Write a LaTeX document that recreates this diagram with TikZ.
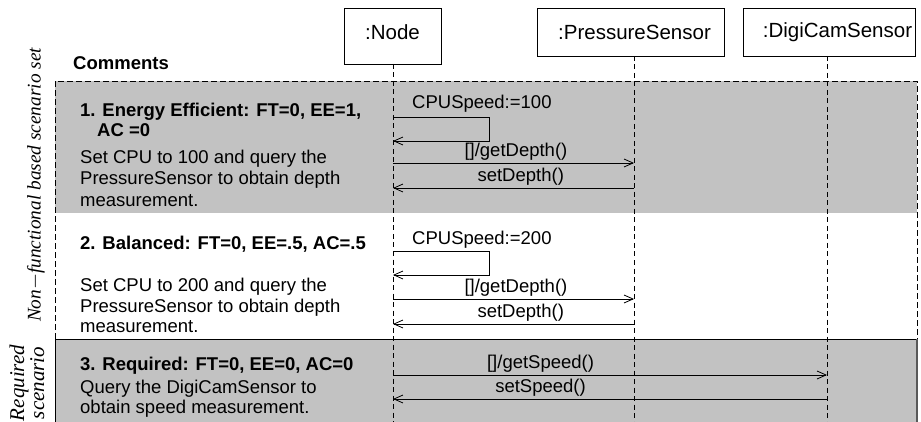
\documentclass[tikz,border=0pt]{standalone}
\usepackage{fontspec}
\setmainfont{Liberation Sans}
\newfontfamily\sidefont{Liberation Serif}
\usetikzlibrary{arrows.meta}
\definecolor{zone}{gray}{0.76}

\begin{document}
\begin{tikzpicture}[x=1pt,y=-1pt]
    \tikzset{head/.style = {shape=rectangle,draw,line width=0.8pt,inner sep=0pt,minimum height=48,font=\fontsize{20.5}{24}\selectfont}}
    \tikzset{life/.style = {line width=0.8pt,dash pattern=on 5pt off 3.5pt}}
    \tikzset{frame/.style = {line width=0.8pt,dash pattern=on 6pt off 3pt}}
    \tikzset{msg/.style = {line width=0.8pt,-{Straight Barb[length=9pt,width=8pt,line width=0.8pt]}}}
    \tikzset{reply/.style = {line width=0.8pt}}
    \tikzset{txt/.style = {anchor=base west,inner sep=0pt,font=\fontsize{18.5}{20.5}\selectfont}}
    \tikzset{title/.style = {txt,font=\fontsize{18.5}{20.5}\selectfont\bfseries}}
    \tikzset{call/.style = {above,inner sep=2pt,font=\fontsize{18.5}{20.5}\selectfont}}
    \tikzset{side/.style = {rotate=90,inner sep=0pt,align=center,font=\sidefont\itshape}}
    \useasboundingbox (0,0) rectangle (921,422);
    % scenario zones
    \fill[zone] (55,81) rectangle (917,213);
    \fill[zone] (55,339) rectangle (917,422);
    \draw[frame] (55,339) -- (55,81) -- (917,81) -- (917,339);
    \draw[line width=0.8pt] (55,422) -- (55,339) -- (917,339);
    \draw[line width=1.4pt,black!65] (917,339) -- (917,422);
    % lifeline heads
    \node[head,minimum width=97,minimum height=56,text depth=8pt] (node) at (392.5,36) {:Node};
    \node[head,minimum width=187] (pres) at (630.5,32) {\hspace*{8pt}:PressureSensor};
    \node[head,minimum width=172] (digi) at (829,32) {\hspace*{17pt}:DigiCamSensor};
    \coordinate (nodeL) at (393,64);
    \coordinate (presL) at (634,56);
    \coordinate (digiL) at (827,56);
    \coordinate (nodeE) at (393,422);
    \coordinate (presE) at (634,422);
    \coordinate (digiE) at (827,422);
    \draw[life] (nodeL) -- (nodeE);
    \draw[life] (presL) -- (presE);
    \draw[life] (digiL) -- (digiE);
    % side labels
    \node[side,font=\sidefont\itshape\fontsize{19.3}{22}\selectfont] (nfset) at (36,185) {Non$-$functional based scenario set};
    \node[side,font=\sidefont\itshape\fontsize{21}{20}\selectfont] (reqset) at (27,383) {Required\\scenario};
    % comments
    \node[title] (cmt) at (73,70) {Comments};
    \node[title] (r1t1) at (80,117) {1. Energy Efficient: FT=0, EE=1,};
    \node[title] (r1t2) at (97,137) {AC =0};
    \node[txt] (r1d1) at (80,164) {Set CPU to 100 and query the};
    \node[txt] (r1d2) at (80,185) {PressureSensor to obtain depth};
    \node[txt] (r1d3) at (80,207) {measurement.};
    \node[title] (r2t1) at (80,250) {2. Balanced: FT=0, EE=.5, AC=.5};
    \node[txt] (r2d1) at (80,291) {Set CPU to 200 and query the};
    \node[txt] (r2d2) at (80,312) {PressureSensor to obtain depth};
    \node[txt] (r2d3) at (80,332) {measurement.};
    \node[title] (r3t1) at (80,370) {3. Required: FT=0, EE=0, AC=0};
    \node[txt] (r3d1) at (80,393) {Query the DigiCamSensor to};
    \node[txt] (r3d2) at (80,413) {obtain speed measurement.};
    % energy efficient messages
    \node[txt] (cpu1) at (412,109) {CPUSpeed:=100};
    \draw[msg] (nodeL |- 0,117) -- ++(96,0) |- (nodeL |- 0,141);
    \draw[msg] (nodeL |- 0,163) -- node[call,pos=0.51] {[]/getDepth()} (presL |- 0,163);
    \draw[msg] (presL |- 0,188) -- node[call,pos=0.47] {setDepth()} (nodeL |- 0,188);
    % balanced messages
    \node[txt] (cpu2) at (412,244) {CPUSpeed:=200};
    \draw[msg] (nodeL |- 0,251) -- ++(96,0) |- (nodeL |- 0,275);
    \draw[msg] (nodeL |- 0,299) -- node[call,pos=0.51] {[]/getDepth()} (presL |- 0,299);
    \draw[msg] (presL |- 0,324) -- node[call,pos=0.47] {setDepth()} (nodeL |- 0,324);
    % required messages
    \draw[msg] (nodeL |- 0,375) -- node[call,pos=0.34] {[]/getSpeed()} (digiL |- 0,375);
    \draw[msg] (digiL |- 0,399) -- node[call,pos=0.66] {setSpeed()} (nodeL |- 0,399);
\end{tikzpicture}
\end{document}
